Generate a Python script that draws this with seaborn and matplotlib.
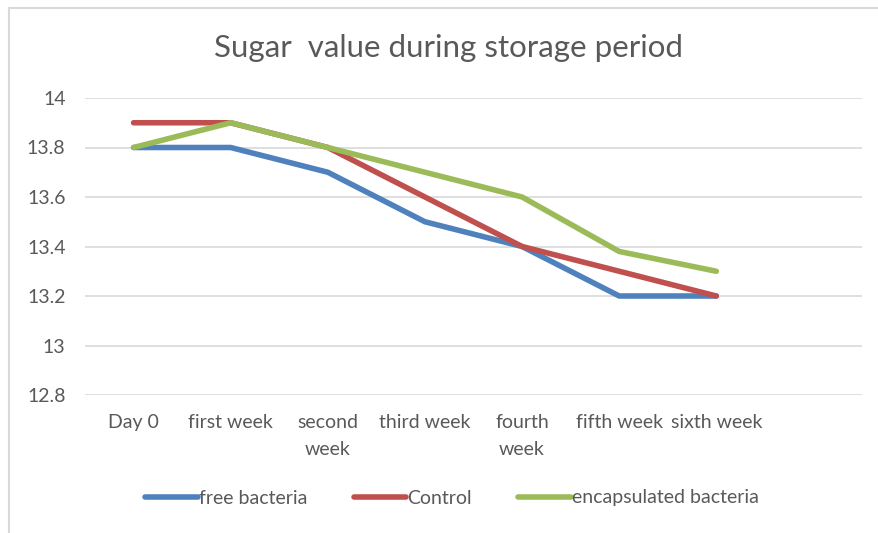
import matplotlib
matplotlib.use("Agg")
import matplotlib.pyplot as plt
import matplotlib.patches as mpatches
import pandas as pd
import seaborn as sns

# categories on the x axis (an empty 8th slot is kept like the original)
weeks = ["Day 0", "first week", "second\nweek", "third week", "fourth\nweek",
         "fifth week", "sixth week"]
free_bacteria = [13.8, 13.8, 13.7, 13.5, 13.4, 13.2, 13.2]
control = [13.9, 13.9, 13.8, 13.6, 13.4, 13.3, 13.2]
encapsulated = [13.8, 13.9, 13.8, 13.7, 13.6, 13.38, 13.3]

series_names = ["free bacteria", "Control", "encapsulated bacteria"]
colors = ["#4F81BD", "#C0504D", "#9BBB59"]

rows = []
for name, vals in zip(series_names, [free_bacteria, control, encapsulated]):
    for i, v in enumerate(vals):
        rows.append({"pos": i, "value": v, "series": name})
df = pd.DataFrame(rows)

sns.set_theme(style="white")
plt.rcParams['font.family'] = ['Lato', 'DejaVu Sans']

fig = plt.figure(figsize=(8.79, 5.33), dpi=100)
ax = fig.add_axes([85 / 879, 1 - 395 / 533, (862 - 85) / 879, (395 - 98) / 533])

sns.lineplot(data=df, x="pos", y="value", hue="series", hue_order=series_names,
             palette=colors, linewidth=4, ax=ax, legend=False)

ax.set_xlim(-0.5, 7.5)
ax.set_ylim(12.8, 14.0)
ax.set_yticks([12.8, 13.0, 13.2, 13.4, 13.6, 13.8, 14.0])
ax.set_yticklabels(["12.8", "13", "13.2", "13.4", "13.6", "13.8", "14"])
ax.set_xticks(range(len(weeks)))
ax.set_xticklabels(weeks, va="top", linespacing=1.7)
ax.tick_params(axis="both", length=0, labelsize=14, labelcolor="#595959")
ax.tick_params(axis="x", pad=14)
ax.tick_params(axis="y", pad=14)
ax.grid(axis="y", color="#D9D9D9", linewidth=1.2)
ax.set_axisbelow(True)
for s in ax.spines.values():
    s.set_visible(False)
ax.set_xlabel("")
ax.set_ylabel("")

fig.text(449 / 879, 1 - 48 / 533, "Sugar  value during storage period",
         ha="center", va="center", fontsize=22.5, color="#595959")

handles = [plt.Line2D([], [], color=c, linewidth=4) for c in colors]
fig.legend(handles, series_names, loc="center", bbox_to_anchor=(452 / 879, 1 - 498 / 533),
           ncol=3, frameon=False, fontsize=14, labelcolor="#595959",
           handlelength=2.7, handletextpad=0.05, columnspacing=2.4)

# light chart border like the spreadsheet frame
fig.patches.append(mpatches.Rectangle((9 / 879, -0.02), 1.0, 1 - 8 / 533 + 0.02,
                                      transform=fig.transFigure, fill=False,
                                      edgecolor="#D9D9D9", linewidth=1.5))

fig.savefig("out.png", dpi=100)
